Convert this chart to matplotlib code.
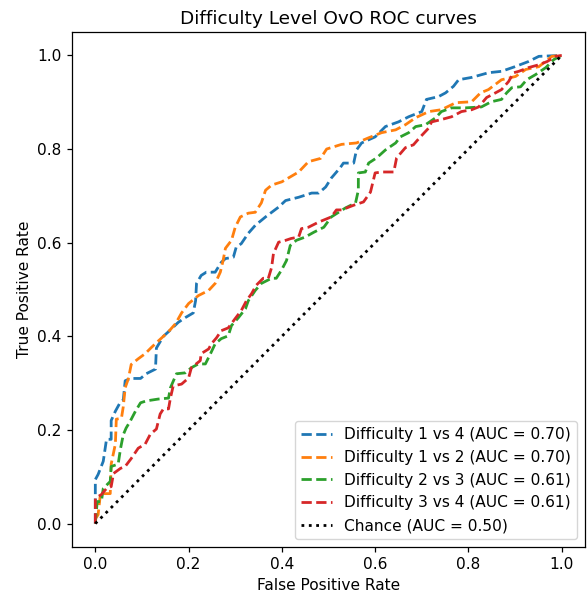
import matplotlib
matplotlib.use("Agg")
import matplotlib.pyplot as plt

# ROC points (FPR, TPR)
fpr_1v4 = [0.0, 0.0, 0.006, 0.017, 0.024, 0.034, 0.034, 0.043, 0.054, 0.06, 0.064, 0.075, 0.097,
           0.109, 0.129, 0.131, 0.146, 0.157, 0.178, 0.193, 0.21, 0.215, 0.217, 0.227, 0.238, 0.257,
           0.27, 0.279, 0.296, 0.302, 0.313, 0.328, 0.343, 0.365, 0.393, 0.408, 0.436, 0.464, 0.479,
           0.494, 0.506, 0.525, 0.532, 0.554, 0.56, 0.571, 0.60, 0.622, 0.65, 0.672, 0.70, 0.71, 0.736,
           0.751, 0.768, 0.779, 0.807, 0.843, 0.871, 0.90, 0.929, 0.951, 1.0]
tpr_1v4 = [0.0, 0.094, 0.105, 0.133, 0.18, 0.18, 0.22, 0.24, 0.26, 0.264, 0.305, 0.31, 0.31,
           0.32, 0.33, 0.375, 0.40, 0.41, 0.43, 0.44, 0.45, 0.476, 0.513, 0.53, 0.537, 0.537,
           0.558, 0.566, 0.569, 0.59, 0.598, 0.62, 0.637, 0.655, 0.676, 0.69, 0.697, 0.706, 0.706,
           0.719, 0.738, 0.76, 0.77, 0.77, 0.798, 0.813, 0.826, 0.848, 0.858, 0.869, 0.88, 0.906, 0.912,
           0.92, 0.934, 0.948, 0.953, 0.963, 0.966, 0.976, 0.987, 0.998, 1.0]

fpr_1v2 = [0.0, 0.006, 0.011, 0.032, 0.034, 0.043, 0.045, 0.056, 0.06, 0.064, 0.071, 0.077,
           0.092, 0.107, 0.12, 0.135, 0.157, 0.172, 0.185, 0.2, 0.221, 0.243, 0.257, 0.268, 0.274,
           0.279, 0.292, 0.30, 0.311, 0.328, 0.343, 0.356, 0.365, 0.378, 0.4, 0.436, 0.457, 0.483,
           0.496, 0.528, 0.56, 0.586, 0.614, 0.644, 0.665, 0.687, 0.715, 0.742, 0.773, 0.807, 0.826,
           0.843, 0.871, 0.901, 0.923, 0.951, 0.979, 1.0]
tpr_1v2 = [0.01, 0.019, 0.064, 0.064, 0.127, 0.17, 0.223, 0.225, 0.25, 0.29, 0.31, 0.34,
           0.352, 0.363, 0.376, 0.39, 0.41, 0.427, 0.45, 0.47, 0.487, 0.498, 0.513, 0.537, 0.562,
           0.588, 0.605, 0.633, 0.655, 0.663, 0.665, 0.685, 0.712, 0.723, 0.73, 0.751, 0.773, 0.78,
           0.80, 0.81, 0.813, 0.824, 0.835, 0.841, 0.852, 0.867, 0.88, 0.884, 0.899, 0.901, 0.92,
           0.927, 0.948, 0.955, 0.97, 0.976, 0.998, 1.0]

fpr_2v3 = [0.0, 0.004, 0.013, 0.017, 0.032, 0.034, 0.049, 0.054, 0.06, 0.066, 0.075, 0.086,
           0.097, 0.109, 0.135, 0.157, 0.161, 0.174, 0.193, 0.206, 0.221, 0.236, 0.247, 0.257,
           0.27, 0.285, 0.292, 0.307, 0.322, 0.328, 0.343, 0.356, 0.378, 0.388, 0.399, 0.41, 0.418,
           0.431, 0.45, 0.468, 0.49, 0.506, 0.536, 0.558, 0.564, 0.564, 0.579, 0.586, 0.603, 0.622,
           0.644, 0.654, 0.672, 0.687, 0.708, 0.73, 0.742, 0.764, 0.794, 0.828, 0.849, 0.871, 0.882,
           0.893, 0.912, 0.925, 0.944, 0.966, 0.983, 1.0]
tpr_2v3 = [0.0, 0.047, 0.047, 0.075, 0.09, 0.122, 0.127, 0.16, 0.19, 0.204, 0.219, 0.24,
           0.258, 0.262, 0.266, 0.268, 0.29, 0.32, 0.322, 0.333, 0.341, 0.341, 0.363, 0.384,
           0.395, 0.401, 0.423, 0.44, 0.459, 0.476, 0.498, 0.513, 0.524, 0.524, 0.541, 0.562, 0.594,
           0.605, 0.612, 0.622, 0.633, 0.655, 0.674, 0.685, 0.712, 0.749, 0.751, 0.77, 0.781, 0.798,
           0.813, 0.826, 0.835, 0.848, 0.852, 0.867, 0.88, 0.888, 0.888, 0.89, 0.901, 0.906, 0.92,
           0.931, 0.933, 0.948, 0.959, 0.974, 0.991, 1.0]

fpr_3v4 = [0.0, 0.0, 0.013, 0.024, 0.034, 0.039, 0.054, 0.064, 0.077, 0.092, 0.107, 0.118,
           0.131, 0.139, 0.146, 0.157, 0.161, 0.167, 0.185, 0.2, 0.206, 0.225, 0.227, 0.243, 0.249,
           0.26, 0.27, 0.285, 0.3, 0.313, 0.324, 0.335, 0.345, 0.36, 0.371, 0.378, 0.382, 0.393,
           0.408, 0.42, 0.436, 0.442, 0.457, 0.479, 0.506, 0.517, 0.528, 0.554, 0.575, 0.59, 0.60,
           0.614, 0.64, 0.646, 0.665, 0.682, 0.697, 0.715, 0.721, 0.742, 0.764, 0.785, 0.807, 0.822,
           0.839, 0.858, 0.871, 0.886, 0.897, 0.908, 0.929, 0.951, 0.969, 0.987, 1.0]
tpr_3v4 = [0.0, 0.054, 0.062, 0.075, 0.079, 0.107, 0.118, 0.122, 0.139, 0.161, 0.17, 0.191,
           0.202, 0.234, 0.245, 0.245, 0.268, 0.294, 0.298, 0.311, 0.333, 0.348, 0.363, 0.373, 0.384,
           0.397, 0.412, 0.418, 0.438, 0.455, 0.476, 0.491, 0.509, 0.524, 0.524, 0.547, 0.577, 0.601,
           0.605, 0.609, 0.612, 0.63, 0.633, 0.644, 0.655, 0.67, 0.67, 0.68, 0.687, 0.708, 0.749,
           0.751, 0.751, 0.781, 0.803, 0.809, 0.826, 0.845, 0.858, 0.863, 0.869, 0.88, 0.884, 0.89,
           0.91, 0.92, 0.927, 0.944, 0.963, 0.966, 0.974, 0.98, 0.987, 0.998, 1.0]

curves = [
    ("Difficulty 1 vs 4", 0.70, fpr_1v4, tpr_1v4),
    ("Difficulty 1 vs 2", 0.70, fpr_1v2, tpr_1v2),
    ("Difficulty 2 vs 3", 0.61, fpr_2v3, tpr_2v3),
    ("Difficulty 3 vs 4", 0.61, fpr_3v4, tpr_3v4),
]
chance = [0, 1]

# reference looks rendered a bit larger than 100 dpi, so bump the sizes
fs = 11.1
plt.rcParams["font.size"] = fs

fig = plt.figure(figsize=(5.87, 5.92), dpi=100)
ax = fig.add_axes([72 / 587, 45 / 592, 513 / 587, 515 / 592])

for name, auc, fpr, tpr in curves:
    ax.plot(fpr, tpr, linestyle="--", lw=2, label=f"{name} (AUC = {auc:.2f})")

ax.plot(chance, chance, "k:", lw=2, label="Chance (AUC = 0.50)")

ax.set_xlim(-0.05, 1.05)
ax.set_ylim(-0.05, 1.05)
ax.tick_params(labelsize=fs, length=3.9, width=0.9)
for s in ax.spines.values():
    s.set_linewidth(0.9)
ax.set_xlabel("False Positive Rate", fontsize=fs)
ax.set_ylabel("True Positive Rate", fontsize=fs)
ax.set_title("Difficulty Level OvO ROC curves", fontsize=fs * 1.2)
ax.legend(loc="lower right", fontsize=fs)

fig.savefig("out.png", dpi=100)
